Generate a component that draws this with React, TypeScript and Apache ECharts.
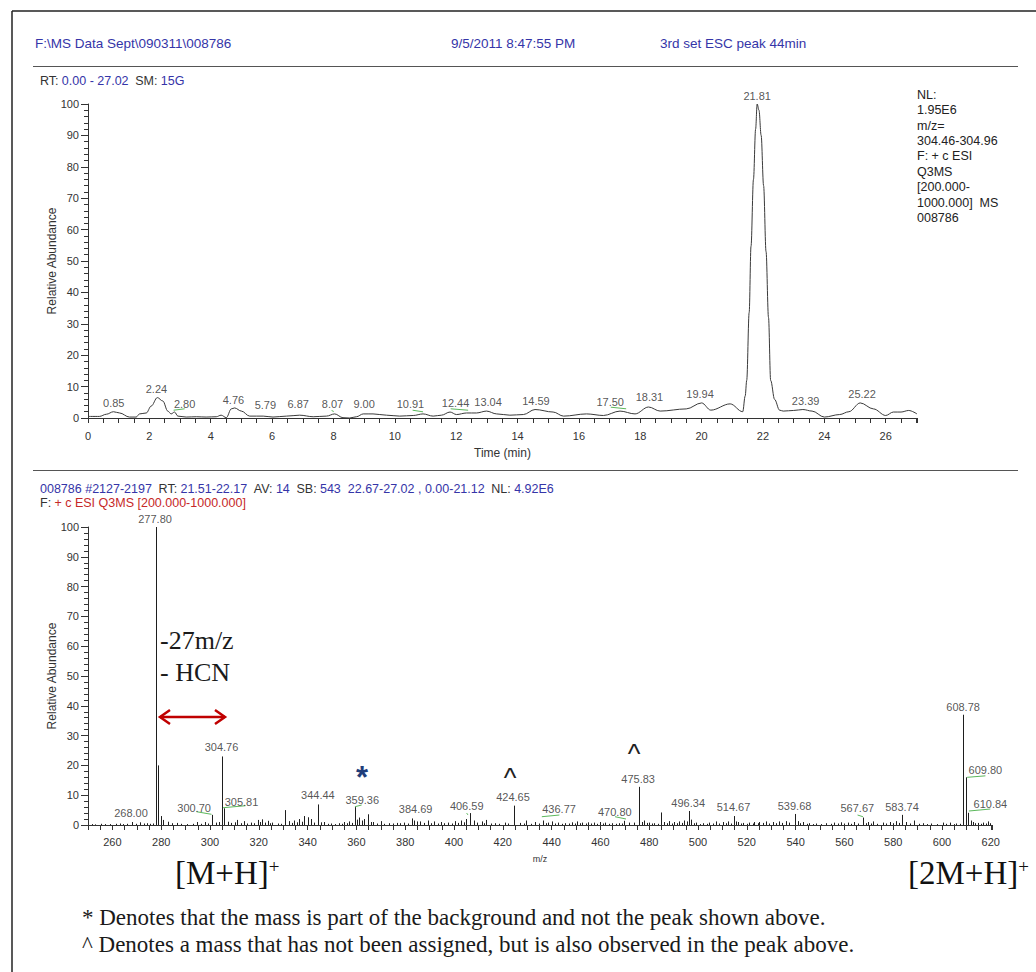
import React, { useEffect, useRef } from 'react';
import * as echarts from 'echarts';

// ---------- Top panel: chromatogram (time in min, relative abundance) ----------
const chromatogram: [number, number][] = [
  [0, 0.5], [0.37, 0.5], [0.6, 1.2], [0.83, 2.0], [1.03, 1.6], [1.35, 0.3], [1.57, 0.3], [1.68, 1.3],
  [1.9, 1.6], [2.06, 3.8], [2.26, 6.5], [2.44, 5.4], [2.6, 2.2], [2.71, 1.3], [2.82, 1.9], [2.93, 0.6],
  [3.2, 0.3], [3.53, 0.4], [3.85, 0.3], [4.18, 0.4], [4.34, 0.9], [4.51, 0.1], [4.67, 2.9], [4.78, 3.2],
  [5.0, 2.2], [5.27, 0.6], [5.71, 0.6], [6.03, 0.3], [6.47, 0.6], [6.9, 0.9], [7.34, 0.4], [7.77, 0.6],
  [8.04, 1.3], [8.31, 0.1], [8.53, 0], [8.75, 0.4], [8.97, 1.3], [9.29, 1.3], [9.73, 0.9], [10.16, 0.6],
  [10.6, 0.8], [10.92, 1.3], [11.25, 0.6], [11.52, 0.9], [11.8, 1.9], [12.01, 1.1], [12.34, 1.6], [12.66, 1.6],
  [12.99, 2.2], [13.32, 1.3], [13.75, 0.9], [14.19, 1.1], [14.57, 2.7], [15.16, 1.9], [15.5, 0.6], [16.25, 1.3],
  [16.8, 0.8], [17.34, 2.2], [17.83, 1.3], [18.27, 3.5], [18.65, 2.2], [19.5, 2.9], [20.0, 4.8], [20.3, 2.5],
  [20.93, 4.5], [21.34, 2.0], [21.42, 7], [21.47, 12], [21.55, 33.6], [21.61, 54.7], [21.69, 76], [21.76, 92],
  [21.81, 100], [21.87, 98], [21.94, 90], [22.02, 74], [22.1, 53], [22.18, 32], [22.25, 12], [22.38, 5.9],
  [22.54, 2.5], [22.66, 2.2], [23.0, 2.4], [23.3, 2.7], [23.6, 2.2], [24.0, 0.3], [24.5, 1.1], [24.8, 2.0],
  [25.17, 4.8], [25.6, 2.9], [26.0, 0.8], [26.25, 1.9], [26.5, 1.9], [26.75, 2.4], [27.02, 1.3],
];
const chromPeakLabels = ['0.85', '2.24', '2.80', '4.76', '5.79', '6.87', '8.07', '9.00', '10.91', '12.44',
  '13.04', '14.59', '17.50', '18.31', '19.94', '21.81', '23.39', '25.22'];
const chromLabelAnchors: [number, number][] = [
  [0.84, 4.84], [2.23, 9.39], [3.15, 4.52], [4.74, 5.67], [5.78, 4.08], [6.85, 4.3], [7.97, 4.52], [9.0, 4.52],
  [10.51, 4.52], [11.98, 4.84], [13.04, 5.03], [14.6, 5.57], [17.02, 5.16], [18.3, 6.75], [19.95, 7.8],
  [21.81, 102.7], [23.39, 5.57], [25.23, 7.71],
];
const chromLeaders: [number, number, number, number][] = [
  [2.79, 2.48, 3.15, 2.93], [7.94, 2.39, 8.01, 2.07], [10.58, 2.48, 10.92, 1.97],
  [11.82, 2.93, 12.39, 2.48], [17.04, 3.44, 17.54, 2.93],
];
const timeAxisLabels = [0, 2, 4, 6, 8, 10, 12, 14, 16, 18, 20, 22, 24, 26];

// ---------- Bottom panel: mass spectrum (m/z, relative abundance) ----------
const spectrumPeaks: [number, number][] = [
  [251.5, 0.3], [253, 0.2], [255.5, 0.4], [257, 0.3], [259, 0.3], [261.5, 0.4], [263, 0.5], [264.5, 0.3],
  [266, 0.4], [268.0, 1.0], [269.5, 0.4], [271.2, 0.9], [272.8, 0.5], [274.3, 0.6], [275.6, 0.4], [276.8, 0.5],
  [277.8, 100], [278.8, 20], [279.8, 3.0], [280.8, 1.7], [282.8, 1.1], [284.5, 0.6], [286.3, 0.7], [288.0, 0.4],
  [290.5, 0.3], [293.0, 0.4], [294.8, 1.0], [296.5, 0.4], [297.8, 1.0], [299.0, 0.5], [300.7, 3.4], [302.3, 0.8],
  [303.5, 1.0], [304.76, 23], [305.81, 5.6], [307.4, 1.1], [308.8, 0.7], [310.2, 0.9], [311.2, 1.7], [312.6, 0.6],
  [314.0, 1.3], [315.3, 0.5], [316.7, 0.8], [318.2, 0.6], [319.5, 1.7], [320.6, 1.0], [321.5, 1.9], [322.6, 0.8],
  [323.6, 1.4], [324.7, 0.6], [325.6, 0.8], [327.7, 0.5], [329.2, 0.4], [330.7, 5.0], [332.5, 1.3], [333.5, 0.7],
  [334.5, 1.5], [335.6, 0.9], [336.6, 2.0], [337.6, 1.1], [338.6, 3.0], [340.0, 2.6], [341.4, 2.0], [342.6, 0.8],
  [344.44, 6.9], [345.6, 0.9], [346.9, 1.0], [348.3, 0.4], [349.6, 0.5], [351.2, 0.3], [353.0, 0.6], [354.2, 0.4],
  [355.1, 1.0], [356.2, 0.6], [357.1, 1.2], [358.2, 0.7], [359.36, 6.0], [360.3, 1.8], [361.2, 2.5], [362.1, 1.5],
  [363.0, 2.0], [364.7, 3.6], [365.8, 1.0], [366.7, 1.0], [368.3, 0.5], [370.2, 1.3], [371.5, 0.4], [373.4, 0.6],
  [375.0, 0.5], [376.5, 0.7], [378.0, 0.6], [379.6, 0.8], [381.2, 0.5], [382.9, 2.2], [383.8, 1.5], [384.69, 1.2],
  [385.9, 1.2], [387.6, 0.7], [389.3, 1.5], [390.5, 0.6], [392.0, 1.2], [393.4, 0.5], [394.8, 1.0], [396.0, 0.6],
  [397.6, 0.8], [399.0, 0.5], [400.3, 1.3], [401.5, 0.7], [403.0, 1.5], [404.0, 0.9], [405.1, 2.0], [406.59, 4.0],
  [408.0, 1.5], [409.5, 0.8], [411.3, 1.2], [412.5, 0.6], [413.3, 1.7], [415.0, 0.5], [416.7, 0.6], [418.5, 0.4],
  [420.8, 0.8], [422.3, 0.5], [424.65, 6.5], [427.0, 0.7], [428.5, 0.5], [429.7, 1.5], [431.5, 0.4], [433.2, 1.0],
  [435.0, 0.5], [436.6, 1.5], [437.8, 0.6], [438.7, 0.8], [440.2, 1.2], [441.5, 0.5], [442.8, 0.8], [444.2, 0.4],
  [445.5, 0.6], [447.0, 0.5], [448.2, 0.9], [449.5, 0.5], [450.3, 1.2], [451.5, 0.6], [452.4, 0.8], [454.0, 0.5],
  [455.1, 0.9], [456.3, 0.5], [457.2, 0.8], [458.5, 0.4], [459.9, 1.0], [461.2, 0.5], [462.0, 0.8], [463.5, 0.4],
  [464.7, 0.6], [466.4, 0.4], [467.6, 0.6], [468.8, 0.5], [469.7, 1.4], [471.7, 0.8], [473.8, 0.8], [475.83, 12.8],
  [477.0, 1.0], [478.0, 1.5], [479.0, 0.7], [480.0, 0.8], [481.3, 0.5], [482.1, 0.6], [483.5, 0.4], [484.8, 4.2],
  [486.2, 1.0], [487.5, 0.6], [488.2, 1.3], [489.5, 0.5], [490.3, 1.0], [491.5, 0.6], [492.3, 1.2], [493.5, 0.7],
  [494.4, 1.5], [495.5, 1.2], [496.34, 4.7], [497.1, 1.8], [498.3, 0.6], [499.2, 0.8], [501.0, 0.3], [501.9, 0.6],
  [503.5, 0.4], [504.6, 0.8], [506.0, 0.5], [507.4, 1.2], [508.8, 0.5], [510.1, 1.0], [511.3, 0.6], [512.2, 1.2],
  [513.4, 0.5], [514.67, 3.0], [515.6, 1.2], [516.3, 1.0], [517.5, 0.5], [518.3, 0.7], [520.0, 0.4], [521.0, 0.8],
  [522.5, 0.5], [523.1, 1.0], [524.5, 0.6], [525.1, 1.0], [526.5, 0.7], [527.9, 1.2], [529.0, 0.5], [530.6, 1.0],
  [532.0, 0.6], [533.3, 1.2], [534.5, 0.7], [536.1, 1.3], [537.3, 0.8], [539.68, 3.7], [540.9, 1.3], [542.0, 0.6],
  [542.9, 1.0], [544.5, 0.4], [545.6, 0.6], [547.0, 0.3], [548.4, 0.5], [550.5, 0.3], [552.5, 0.6], [554.5, 0.4],
  [555.9, 0.8], [557.3, 0.5], [558.6, 0.9], [560.0, 0.5], [561.4, 0.8], [562.8, 0.4], [564.1, 1.0], [565.5, 0.5],
  [567.67, 2.5], [568.8, 0.6], [569.6, 1.0], [570.8, 0.5], [571.6, 1.2], [573.5, 0.4], [575.7, 0.8], [577.2, 0.5],
  [578.5, 1.0], [579.8, 0.6], [581.2, 1.3], [582.4, 0.7], [583.74, 3.4], [585.3, 1.0], [586.8, 0.5], [588.7, 1.5],
  [590.5, 0.4], [592.1, 0.6], [594.0, 0.3], [595.6, 0.5], [597.8, 0.3], [600.3, 0.8], [601.8, 0.4], [603.1, 0.8],
  [604.8, 0.3], [605.8, 0.5], [607.2, 0.4], [608.78, 37], [609.8, 16], [610.84, 4.1], [611.8, 1.5], [612.6, 1.0],
  [613.6, 0.6], [614.7, 0.7], [616.0, 0.4], [616.7, 0.8], [618.0, 0.5], [618.8, 1.2], [619.8, 0.6],
];
const specPeakLabels = ['277.80', '268.00', '300.70', '304.76', '305.81', '344.44', '359.36', '384.69', '406.59',
  '424.65', '436.77', '470.80', '475.83', '496.34', '514.67', '539.68', '567.67', '583.74', '608.78', '609.80', '610.84'];
const specLabelAnchors: [number, number][] = [
  [277.48, 102.8], [267.64, 4.12], [293.48, 5.8], [304.72, 26.05], [312.92, 7.81], [344.22, 10.06], [362.39, 8.38],
  [384.29, 5.26], [405.21, 6.37], [424.2, 9.49], [443.07, 5.36], [465.91, 4.46], [475.47, 15.42], [495.98, 7.48],
  [514.56, 6.13], [539.58, 6.47], [565.3, 5.6], [583.63, 6.13], [608.65, 39.66], [617.8, 18.44], [619.85, 7.04],
];
const specLeaders: [number, number, number, number][] = [
  [294.46, 4.46, 300.62, 3.59], [305.37, 5.8, 314.56, 6.47], [359.39, 6.13, 362.14, 6.7], [405.2, 4.0, 405.7, 3.4],
  [436.0, 2.78, 443.2, 3.35], [466.0, 2.78, 470.5, 2.01], [565.4, 3.35, 567.6, 2.78], [610.3, 16.0, 617.8, 16.5],
  [611.0, 4.69, 619.8, 5.36],
];
const mzAxisLabels = [260, 280, 300, 320, 340, 360, 380, 400, 420, 440, 460, 480, 500, 520, 540, 560, 580, 600, 620];
const abundanceLabels = [0, 10, 20, 30, 40, 50, 60, 70, 80, 90, 100];

const SANS = "'Liberation Sans', Arial, sans-serif";
const SERIF = "'Liberation Serif', 'Times New Roman', serif";
const BLUE = '#3535a8';
const AXIS = '#333';
const GREEN = '#5cb85c';

function xAxisCfg(grid: number, min: number, max: number, interval: number, labels: number[], name: string, nameSize: number, margin: number) {
  return {
    type: 'value', gridIndex: grid, min, max, interval,
    axisLine: { show: true, lineStyle: { color: AXIS, width: 1 } },
    axisTick: { show: true, length: 5, inside: false, lineStyle: { color: AXIS, width: 1 } },
    axisLabel: {
      show: true, margin, fontSize: 11, color: '#333', fontFamily: SANS,
      formatter: (v: number) => (labels.includes(Math.round(v * 1000) / 1000) ? String(v) : ''),
    },
    splitLine: { show: false },
    name, nameLocation: 'middle', nameGap: 29, nameMoveOverlap: false,
    nameTextStyle: { fontSize: nameSize, color: '#333', fontFamily: SANS },
  };
}

function yAxisCfg(grid: number) {
  return {
    type: 'value', gridIndex: grid, min: 0, max: 100, interval: 10,
    axisLine: { show: true, lineStyle: { color: AXIS, width: 1 } },
    axisTick: { show: true, length: 7, inside: false, lineStyle: { color: AXIS, width: 1 } },
    minorTick: { show: true, splitNumber: 5, length: 4, lineStyle: { color: AXIS, width: 1 } },
    axisLabel: {
      show: true, margin: 9, fontSize: 11, color: '#333', fontFamily: SANS,
      formatter: (v: number) => (abundanceLabels.includes(v) ? String(v) : ''),
    },
    splitLine: { show: false },
    minorSplitLine: { show: false },
    name: 'Relative Abundance', nameLocation: 'middle', nameGap: 30, nameRotate: 90, nameMoveOverlap: false,
    nameTextStyle: { fontSize: 12, color: '#333', fontFamily: SANS },
  };
}

const stickRender = (params: any, api: any) => {
  const p0 = api.coord([api.value(0), 0]);
  const p1 = api.coord([api.value(0), api.value(1)]);
  const x = Math.round(p0[0]) + 0.5;
  return { type: 'line', shape: { x1: x, y1: p0[1], x2: x, y2: p1[1] }, style: { stroke: '#1e1e1e', lineWidth: 1 } };
};
const leaderRender = (params: any, api: any) => {
  const a = api.coord([api.value(0), api.value(1)]);
  const b = api.coord([api.value(2), api.value(3)]);
  return { type: 'line', shape: { x1: a[0], y1: a[1], x2: b[0], y2: b[1] }, style: { stroke: GREEN, lineWidth: 1 } };
};

function txt(x: number, y: number, text: string, opts: any = {}) {
  return {
    type: 'text', x, y, silent: true,
    style: {
      text, fill: opts.fill || '#222', font: opts.font || `12px ${SANS}`,
      textAlign: opts.align || 'left', align: opts.align || 'left',
      textVerticalAlign: opts.va || 'middle', verticalAlign: opts.va || 'middle',
      lineHeight: opts.lineHeight, rich: opts.rich,
    },
  };
}
function ln(x1: number, y1: number, x2: number, y2: number, stroke: string, lineWidth: number) {
  return { type: 'line', silent: true, shape: { x1, y1, x2, y2 }, style: { stroke, lineWidth } };
}

export default function App() {
  const ref = useRef<HTMLDivElement>(null);
  useEffect(() => {
    const chart = echarts.init(ref.current!, null, { renderer: 'svg' });
    const rich = {
      b: { fill: BLUE, font: `12.5px ${SANS}` },
      k: { fill: '#333', font: `12.5px ${SANS}` },
      r: { fill: '#c62828', font: `12.5px ${SANS}` },
    };
    const bigRich = {
      m: { fill: '#111', font: `33px ${SERIF}`, verticalAlign: 'bottom' },
      s: { fill: '#111', font: `19px ${SERIF}`, verticalAlign: 'top' },
    };
    const option: any = {
      animation: false,
      backgroundColor: '#ffffff',
      grid: [
        { left: 88, top: 104, width: 829, height: 314, outerBoundsMode: 'none' },
        { left: 88, top: 527, width: 904, height: 298, outerBoundsMode: 'none' },
      ],
      xAxis: [
        xAxisCfg(0, 0, 27.02, 0.5, timeAxisLabels, 'Time (min)', 12, 12),
        xAxisCfg(1, 250, 620.5, 5, mzAxisLabels, 'm/z', 9, 11),
      ],
      yAxis: [yAxisCfg(0), yAxisCfg(1)],
      series: [
        {
          type: 'line', xAxisIndex: 0, yAxisIndex: 0, data: chromatogram, showSymbol: false,
          smooth: 0.35, smoothMonotone: 'x', silent: true,
          lineStyle: { color: '#3a3a3a', width: 1 },
        },
        {
          type: 'scatter', xAxisIndex: 0, yAxisIndex: 0, symbolSize: 0, clip: false, silent: true,
          data: chromLabelAnchors.map((a, i) => ({ value: a, name: chromPeakLabels[i] })),
          label: { show: true, position: 'inside', formatter: '{b}', color: '#2a2a2a', fontSize: 11, fontFamily: SANS },
        },
        {
          type: 'custom', xAxisIndex: 0, yAxisIndex: 0, silent: true, clip: false,
          data: chromLeaders, encode: { x: [0, 2], y: [1, 3] }, renderItem: leaderRender,
        },
        {
          type: 'custom', xAxisIndex: 1, yAxisIndex: 1, silent: true,
          data: spectrumPeaks, encode: { x: 0, y: 1 }, renderItem: stickRender,
        },
        {
          type: 'scatter', xAxisIndex: 1, yAxisIndex: 1, symbolSize: 0, clip: false, silent: true,
          data: specLabelAnchors.map((a, i) => ({ value: a, name: specPeakLabels[i] })),
          label: { show: true, position: 'inside', formatter: '{b}', color: '#2a2a2a', fontSize: 11, fontFamily: SANS },
        },
        {
          type: 'custom', xAxisIndex: 1, yAxisIndex: 1, silent: true, clip: false,
          data: specLeaders, encode: { x: [0, 2], y: [1, 3] }, renderItem: leaderRender,
        },
      ],
      graphic: [
        ln(12, 11, 1036, 11, '#222', 1.5),
        ln(12, 11, 12, 972, '#222', 1.5),
        ln(33, 66.5, 1018, 66.5, '#555', 1),
        ln(33, 470.5, 1018, 470.5, '#555', 1),
        txt(35, 43, 'F:\\MS Data Sept\\090311\\008786', { fill: BLUE, font: `13.5px ${SANS}` }),
        txt(451, 43, '9/5/2011 8:47:55 PM', { fill: BLUE, font: `13.5px ${SANS}` }),
        txt(660, 43, '3rd set ESC peak 44min', { fill: BLUE, font: `13.5px ${SANS}` }),
        txt(40, 81, '{k|RT:} {b|0.00 - 27.02}  {k|SM:} {b|15G}', { rich }),
        txt(917, 87, 'NL:\n1.95E6\nm/z=\n304.46-304.96\nF: + c ESI\nQ3MS\n[200.000-\n1000.000]  MS\n008786',
          { va: 'top', lineHeight: 15.4, fill: '#222', font: `12.5px ${SANS}` }),
        txt(40, 489, '{b|008786 #2127-2197}  {k|RT:} {b|21.51-22.17}  {k|AV:} {b|14}  {k|SB:} {b|543  22.67-27.02 , 0.00-21.12}  {k|NL:} {b|4.92E6}', { rich }),
        txt(40, 503, '{k|F:} {r|+ c ESI Q3MS [200.000-1000.000]}', { rich }),
        txt(160, 640, '-27m/z', { font: `26px ${SERIF}`, fill: '#1a1a1a' }),
        txt(160, 672, '- HCN', { font: `26px ${SERIF}`, fill: '#1a1a1a' }),
        {
          type: 'polyline', silent: true,
          shape: { points: [[160, 717], [225, 717]] },
          style: { stroke: '#c00000', lineWidth: 2.5, fill: 'none' },
        },
        {
          type: 'polyline', silent: true,
          shape: { points: [[170, 710], [160, 717], [170, 724]] },
          style: { stroke: '#c00000', lineWidth: 2.5, fill: 'none' },
        },
        {
          type: 'polyline', silent: true,
          shape: { points: [[215, 710], [225, 717], [215, 724]] },
          style: { stroke: '#c00000', lineWidth: 2.5, fill: 'none' },
        },
        txt(362, 777, '*', { font: `bold 31px ${SANS}`, fill: '#1f3d7a', align: 'center', lineHeight: 12 }),
        txt(510, 778, '^', { font: `27px ${SANS}`, fill: '#222', align: 'center', lineHeight: 12 }),
        txt(634, 754, '^', { font: `27px ${SANS}`, fill: '#222', align: 'center', lineHeight: 12 }),
        txt(175, 873, '{m|[M+H]}{s|+}', { rich: bigRich }),
        txt(908, 873, '{m|[2M+H]}{s|+}', { rich: bigRich }),
        txt(82, 917, '* Denotes that the mass is part of the background and not the peak shown above.', { font: `23px ${SERIF}`, fill: '#1a1a1a' }),
        txt(82, 944, '^ Denotes a mass that has not been assigned, but is also observed in the peak above.', { font: `23px ${SERIF}`, fill: '#1a1a1a' }),
      ],
    };
    chart.setOption(option);
    return () => chart.dispose();
  }, []);
  return (
    <div
      ref={ref}
      style={{ position: 'absolute', left: 0, top: 0, width: 1036, height: 972, background: '#fff' }}
    />
  );
}
